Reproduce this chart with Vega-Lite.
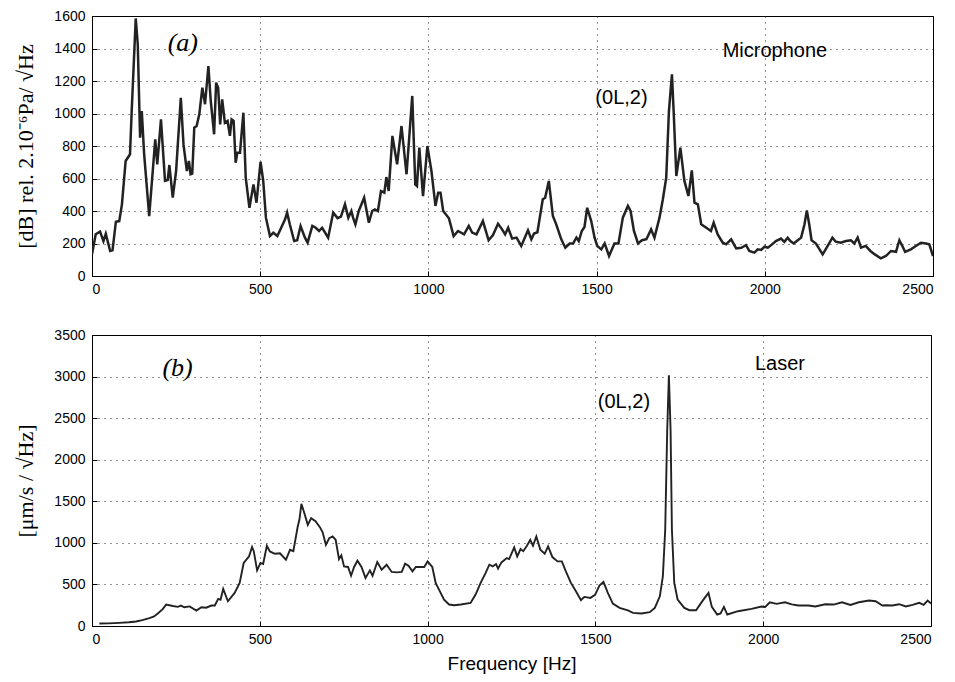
{
  "$schema": "https://vega.github.io/schema/vega-lite/v6.json",
  "background": "white",
  "padding": {"left": 14, "top": 8, "right": 14, "bottom": 5},
  "spacing": 30,
  "datasets": {
    "mic": [
      {"f":0,"v":133},{"f":11,"v":257},{"f":24,"v":273},{"f":34,"v":215},{"f":41,"v":260},{"f":54,"v":154},{"f":61,"v":158},{"f":71,"v":334},{"f":81,"v":338},{"f":89,"v":441},{"f":100,"v":708},{"f":113,"v":749},{"f":118,"v":1015},{"f":130,"v":1585},{"f":136,"v":1426},{"f":143,"v":851},{"f":148,"v":1015},{"f":155,"v":750},{"f":170,"v":369},{"f":188,"v":841},{"f":194,"v":687},{"f":205,"v":964},{"f":217,"v":585},{"f":225,"v":590},{"f":230,"v":683},{"f":240,"v":482},{"f":250,"v":646},{"f":264,"v":1097},{"f":272,"v":810},{"f":282,"v":646},{"f":288,"v":708},{"f":293,"v":626},{"f":298,"v":630},{"f":304,"v":913},{"f":311,"v":923},{"f":319,"v":995},{"f":328,"v":1159},{"f":336,"v":1057},{"f":346,"v":1292},{"f":353,"v":1077},{"f":363,"v":872},{"f":369,"v":1190},{"f":375,"v":1159},{"f":381,"v":933},{"f":387,"v":1087},{"f":395,"v":943},{"f":403,"v":954},{"f":410,"v":862},{"f":415,"v":964},{"f":421,"v":954},{"f":427,"v":697},{"f":432,"v":759},{"f":440,"v":759},{"f":450,"v":1005},{"f":457,"v":605},{"f":468,"v":420},{"f":480,"v":564},{"f":489,"v":451},{"f":501,"v":703},{"f":509,"v":585},{"f":517,"v":359},{"f":529,"v":246},{"f":539,"v":266},{"f":551,"v":246},{"f":574,"v":349},{"f":580,"v":390},{"f":588,"v":318},{"f":601,"v":215},{"f":610,"v":220},{"f":620,"v":308},{"f":633,"v":236},{"f":641,"v":205},{"f":655,"v":308},{"f":665,"v":297},{"f":675,"v":277},{"f":684,"v":297},{"f":702,"v":236},{"f":717,"v":390},{"f":730,"v":356},{"f":740,"v":365},{"f":752,"v":441},{"f":762,"v":359},{"f":771,"v":400},{"f":776,"v":359},{"f":783,"v":318},{"f":793,"v":400},{"f":809,"v":482},{"f":823,"v":328},{"f":833,"v":400},{"f":841,"v":410},{"f":850,"v":400},{"f":859,"v":523},{"f":869,"v":513},{"f":875,"v":609},{"f":882,"v":523},{"f":893,"v":862},{"f":907,"v":687},{"f":920,"v":923},{"f":935,"v":626},{"f":952,"v":1108},{"f":961,"v":564},{"f":966,"v":554},{"f":973,"v":790},{"f":984,"v":492},{"f":997,"v":800},{"f":1009,"v":646},{"f":1021,"v":431},{"f":1029,"v":513},{"f":1036,"v":513},{"f":1044,"v":400},{"f":1061,"v":355},{"f":1075,"v":246},{"f":1088,"v":277},{"f":1106,"v":256},{"f":1120,"v":308},{"f":1130,"v":267},{"f":1143,"v":256},{"f":1162,"v":338},{"f":1179,"v":220},{"f":1192,"v":252},{"f":1207,"v":322},{"f":1219,"v":287},{"f":1228,"v":256},{"f":1237,"v":297},{"f":1249,"v":230},{"f":1262,"v":236},{"f":1276,"v":185},{"f":1296,"v":281},{"f":1306,"v":226},{"f":1314,"v":261},{"f":1324,"v":269},{"f":1340,"v":472},{"f":1347,"v":482},{"f":1358,"v":585},{"f":1370,"v":369},{"f":1380,"v":318},{"f":1395,"v":226},{"f":1407,"v":174},{"f":1420,"v":200},{"f":1430,"v":200},{"f":1440,"v":236},{"f":1447,"v":215},{"f":1456,"v":277},{"f":1464,"v":302},{"f":1472,"v":420},{"f":1484,"v":338},{"f":1494,"v":236},{"f":1502,"v":185},{"f":1514,"v":164},{"f":1524,"v":200},{"f":1537,"v":123},{"f":1553,"v":200},{"f":1565,"v":200},{"f":1578,"v":359},{"f":1593,"v":431},{"f":1601,"v":400},{"f":1611,"v":277},{"f":1623,"v":200},{"f":1635,"v":220},{"f":1648,"v":226},{"f":1662,"v":287},{"f":1672,"v":236},{"f":1687,"v":359},{"f":1697,"v":472},{"f":1707,"v":605},{"f":1715,"v":1015},{"f":1724,"v":1241},{"f":1729,"v":1015},{"f":1737,"v":615},{"f":1749,"v":790},{"f":1761,"v":585},{"f":1773,"v":492},{"f":1783,"v":650},{"f":1791,"v":451},{"f":1801,"v":441},{"f":1811,"v":318},{"f":1826,"v":297},{"f":1840,"v":277},{"f":1848,"v":328},{"f":1860,"v":256},{"f":1875,"v":205},{"f":1885,"v":195},{"f":1900,"v":226},{"f":1915,"v":170},{"f":1930,"v":174},{"f":1944,"v":190},{"f":1954,"v":154},{"f":1969,"v":144},{"f":1979,"v":164},{"f":1989,"v":160},{"f":1999,"v":180},{"f":2009,"v":174},{"f":2019,"v":190},{"f":2033,"v":215},{"f":2048,"v":230},{"f":2058,"v":210},{"f":2068,"v":236},{"f":2076,"v":215},{"f":2086,"v":200},{"f":2098,"v":220},{"f":2108,"v":236},{"f":2118,"v":318},{"f":2125,"v":404},{"f":2132,"v":318},{"f":2139,"v":220},{"f":2152,"v":200},{"f":2172,"v":133},{"f":2187,"v":185},{"f":2201,"v":236},{"f":2211,"v":211},{"f":2226,"v":205},{"f":2241,"v":215},{"f":2256,"v":220},{"f":2266,"v":200},{"f":2276,"v":236},{"f":2286,"v":174},{"f":2300,"v":185},{"f":2314,"v":154},{"f":2327,"v":133},{"f":2345,"v":109},{"f":2360,"v":123},{"f":2375,"v":154},{"f":2390,"v":149},{"f":2400,"v":220},{"f":2410,"v":180},{"f":2417,"v":149},{"f":2434,"v":164},{"f":2449,"v":185},{"f":2464,"v":205},{"f":2479,"v":200},{"f":2489,"v":195},{"f":2500,"v":123}
    ],
    "laser": [
      {"f":22,"v":30},{"f":50,"v":32},{"f":81,"v":38},{"f":110,"v":45},{"f":131,"v":54},{"f":150,"v":70},{"f":171,"v":94},{"f":185,"v":115},{"f":196,"v":150},{"f":210,"v":200},{"f":221,"v":258},{"f":241,"v":240},{"f":256,"v":230},{"f":265,"v":245},{"f":275,"v":225},{"f":291,"v":236},{"f":311,"v":186},{"f":326,"v":226},{"f":340,"v":220},{"f":356,"v":246},{"f":366,"v":246},{"f":376,"v":326},{"f":383,"v":316},{"f":391,"v":446},{"f":405,"v":298},{"f":425,"v":398},{"f":440,"v":518},{"f":452,"v":758},{"f":468,"v":837},{"f":477,"v":950},{"f":482,"v":900},{"f":492,"v":669},{"f":502,"v":758},{"f":510,"v":745},{"f":521,"v":965},{"f":530,"v":897},{"f":545,"v":869},{"f":560,"v":875},{"f":578,"v":797},{"f":590,"v":917},{"f":600,"v":900},{"f":613,"v":1197},{"f":618,"v":1277},{"f":624,"v":1469},{"f":631,"v":1380},{"f":643,"v":1217},{"f":653,"v":1297},{"f":666,"v":1260},{"f":679,"v":1189},{"f":687,"v":1130},{"f":697,"v":977},{"f":707,"v":1057},{"f":717,"v":1077},{"f":726,"v":1037},{"f":736,"v":805},{"f":743,"v":850},{"f":751,"v":717},{"f":763,"v":710},{"f":772,"v":605},{"f":781,"v":710},{"f":791,"v":785},{"f":803,"v":710},{"f":815,"v":578},{"f":828,"v":669},{"f":836,"v":605},{"f":850,"v":770},{"f":863,"v":677},{"f":878,"v":737},{"f":893,"v":650},{"f":908,"v":645},{"f":923,"v":650},{"f":933,"v":749},{"f":943,"v":725},{"f":955,"v":657},{"f":965,"v":710},{"f":978,"v":709},{"f":990,"v":709},{"f":1000,"v":777},{"f":1014,"v":710},{"f":1024,"v":518},{"f":1034,"v":438},{"f":1049,"v":318},{"f":1064,"v":258},{"f":1079,"v":250},{"f":1099,"v":258},{"f":1128,"v":278},{"f":1143,"v":378},{"f":1158,"v":518},{"f":1173,"v":638},{"f":1184,"v":737},{"f":1194,"v":718},{"f":1204,"v":745},{"f":1210,"v":690},{"f":1220,"v":765},{"f":1236,"v":817},{"f":1243,"v":805},{"f":1258,"v":945},{"f":1267,"v":837},{"f":1277,"v":925},{"f":1285,"v":900},{"f":1296,"v":965},{"f":1306,"v":1037},{"f":1314,"v":965},{"f":1324,"v":1077},{"f":1336,"v":917},{"f":1349,"v":869},{"f":1359,"v":957},{"f":1372,"v":829},{"f":1387,"v":777},{"f":1400,"v":777},{"f":1412,"v":657},{"f":1427,"v":518},{"f":1442,"v":418},{"f":1457,"v":310},{"f":1467,"v":350},{"f":1485,"v":338},{"f":1499,"v":375},{"f":1512,"v":486},{"f":1524,"v":530},{"f":1537,"v":398},{"f":1552,"v":270},{"f":1572,"v":218},{"f":1597,"v":189},{"f":1612,"v":158},{"f":1637,"v":150},{"f":1662,"v":166},{"f":1677,"v":218},{"f":1692,"v":357},{"f":1701,"v":597},{"f":1708,"v":1157},{"f":1714,"v":2356},{"f":1719,"v":3016},{"f":1724,"v":2356},{"f":1728,"v":1157},{"f":1735,"v":518},{"f":1745,"v":318},{"f":1765,"v":218},{"f":1780,"v":190},{"f":1800,"v":190},{"f":1815,"v":278},{"f":1828,"v":350},{"f":1837,"v":398},{"f":1847,"v":230},{"f":1863,"v":138},{"f":1873,"v":150},{"f":1883,"v":230},{"f":1893,"v":138},{"f":1925,"v":178},{"f":1965,"v":206},{"f":1995,"v":235},{"f":2005,"v":225},{"f":2020,"v":286},{"f":2040,"v":266},{"f":2065,"v":286},{"f":2085,"v":260},{"f":2105,"v":246},{"f":2135,"v":246},{"f":2155,"v":235},{"f":2185,"v":262},{"f":2210,"v":258},{"f":2235,"v":286},{"f":2260,"v":254},{"f":2285,"v":286},{"f":2315,"v":306},{"f":2335,"v":298},{"f":2355,"v":246},{"f":2365,"v":250},{"f":2385,"v":246},{"f":2405,"v":262},{"f":2425,"v":235},{"f":2445,"v":254},{"f":2465,"v":278},{"f":2478,"v":254},{"f":2490,"v":306},{"f":2500,"v":270}
    ],
    "ann": [
      {"panel":"a","kind":"serif","t":"(a)","f":270,"v":1436},
      {"panel":"a","kind":"sans","t":"Microphone","f":2030,"v":1385},
      {"panel":"a","kind":"sans","t":"(0L,2)","f":1574,"v":1097},
      {"panel":"b","kind":"serif","t":"(b)","f":255,"v":3100},
      {"panel":"b","kind":"sans","t":"Laser","f":2050,"v":3150},
      {"panel":"b","kind":"sans","t":"(0L,2)","f":1585,"v":2695}
    ]
  },
  "config": {
    "view": {"stroke": "black", "strokeWidth": 1},
    "axis": {
      "domainColor": "black",
      "tickColor": "black",
      "tickSize": -5,
      "labelColor": "black",
      "titleColor": "black",
      "labelFont": "Liberation Sans",
      "labelFontSize": 14,
      "gridColor": "black",
      "gridDash": [1, 5],
      "gridWidth": 1,
      "gridOpacity": 0.85,
      "format": "d",
      "labelOverlap": false
    },
    "axisY": {"labelPadding": 12, "titleFont": "Liberation Serif", "titleFontSize": 22, "titleFontWeight": "normal", "titlePadding": 16},
    "axisX": {"labelPadding": 11, "titleFont": "Liberation Sans", "titleFontSize": 19, "titleFontWeight": "normal", "titlePadding": 8}
  },
  "vconcat": [
    {
      "width": 841,
      "height": 260,
      "encoding": {
        "x": {"field": "f", "type": "quantitative", "scale": {"domain": [0, 2500], "nice": false}, "axis": {"values": [0, 500, 1000, 1500, 2000, 2500], "title": null}},
        "y": {"field": "v", "type": "quantitative", "scale": {"domain": [0, 1600], "nice": false}, "axis": {"values": [0, 200, 400, 600, 800, 1000, 1200, 1400, 1600], "title": "[dB]  rel.  2.10⁻⁶Pa/ √Hz"}}
      },
      "layer": [
        {
          "data": {"name": "mic"},
          "mark": {"type": "line", "color": "#222222", "strokeWidth": 2.5, "clip": true}
        },
        {
          "data": {"name": "ann"},
          "transform": [{"filter": "datum.panel === 'a' && datum.kind === 'serif'"}],
          "mark": {"type": "text", "font": "Liberation Serif", "fontStyle": "italic", "fontSize": 26, "color": "black", "align": "center", "baseline": "middle"},
          "encoding": {"text": {"field": "t"}}
        },
        {
          "data": {"name": "ann"},
          "transform": [{"filter": "datum.panel === 'a' && datum.kind === 'sans'"}],
          "mark": {"type": "text", "font": "Liberation Sans", "fontSize": 20, "color": "black", "align": "center", "baseline": "middle"},
          "encoding": {"text": {"field": "t"}}
        }
      ]
    },
    {
      "width": 839,
      "height": 291,
      "encoding": {
        "x": {"field": "f", "type": "quantitative", "scale": {"domain": [0, 2500], "nice": false}, "axis": {"values": [0, 500, 1000, 1500, 2000, 2500], "title": "Frequency [Hz]"}},
        "y": {"field": "v", "type": "quantitative", "scale": {"domain": [0, 3500], "nice": false}, "axis": {"values": [0, 500, 1000, 1500, 2000, 2500, 3000, 3500], "title": "[μm/s  /  √Hz]"}}
      },
      "layer": [
        {
          "data": {"name": "laser"},
          "mark": {"type": "line", "color": "#222222", "strokeWidth": 1.9, "clip": true}
        },
        {
          "data": {"name": "ann"},
          "transform": [{"filter": "datum.panel === 'b' && datum.kind === 'serif'"}],
          "mark": {"type": "text", "font": "Liberation Serif", "fontStyle": "italic", "fontSize": 26, "color": "black", "align": "center", "baseline": "middle"},
          "encoding": {"text": {"field": "t"}}
        },
        {
          "data": {"name": "ann"},
          "transform": [{"filter": "datum.panel === 'b' && datum.kind === 'sans'"}],
          "mark": {"type": "text", "font": "Liberation Sans", "fontSize": 20, "color": "black", "align": "center", "baseline": "middle"},
          "encoding": {"text": {"field": "t"}}
        }
      ]
    }
  ]
}
